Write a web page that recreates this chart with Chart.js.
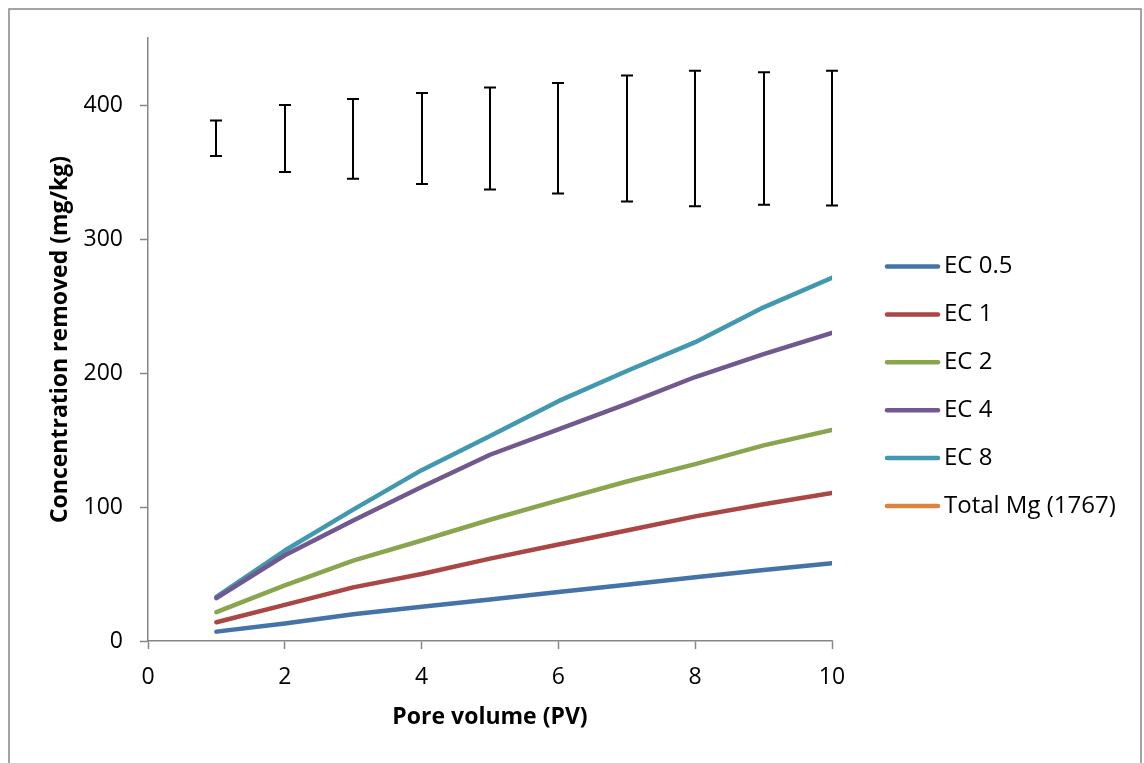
<!DOCTYPE html>
<html>
<head>
<meta charset="utf-8">
<script src="https://cdn.jsdelivr.net/npm/chart.js@4/dist/chart.umd.min.js"></script>
<style>
  html, body { margin: 0; padding: 0; background: #ffffff; }
  #wrap { width: 1144px; height: 763px; position: relative; }
</style>
</head>
<body>
<div id="wrap"><canvas id="c" width="1144" height="763"></canvas></div>
<script>
// ---- Data ----
const poreVolume = [1, 2, 3, 4, 5, 6, 7, 8, 9, 10];
const ec05 = [7, 13, 20, 25.5, 31, 36.5, 42, 47.5, 53, 58];
const ec1  = [14, 27, 40, 50, 61.5, 72, 82.5, 93, 102, 110.5];
const ec2  = [21.5, 41.5, 60, 75, 90.5, 105, 119, 132, 146, 157.5];
const ec4  = [32, 64, 90, 115, 139, 158, 177, 197, 214, 230];
const ec8  = [33, 67.5, 98, 127.5, 153, 179, 201.5, 223, 249, 271];
const totalMg = [];
const errLow  = [362, 350, 345, 341, 337, 334, 328, 324.5, 325.5, 325];
const errHigh = [388.5, 400, 404.5, 409, 413, 416.5, 422, 425.5, 424.5, 425.5];
const seriesNames = ['EC 0.5', 'EC 1', 'EC 2', 'EC 4', 'EC 8', 'Total Mg (1767)'];
const seriesColors = ['#4572A7', '#AA4643', '#89A54E', '#71588F', '#4198AF', '#DB843D'];
const xTicks = [0, 2, 4, 6, 8, 10];
const yTicks = [0, 100, 200, 300, 400];

const FONT = "'Open Sans', 'Noto Sans', sans-serif";
const AXIS = '#868686';
const FS = 23;

function pts(ys) { return ys.map((y, i) => ({ x: poreVolume[i], y: y })); }
const seriesData = [ec05, ec1, ec2, ec4, ec8, totalMg];

const datasets = seriesNames.map((name, i) => ({
  label: name,
  data: pts(seriesData[i]),
  borderColor: seriesColors[i],
  backgroundColor: seriesColors[i],
  borderWidth: 4.5,
  borderCapStyle: 'round',
  borderJoinStyle: 'round',
  pointRadius: 0,
  tension: 0,
  fill: false
}));

const framePlugin = {
  id: 'frame',
  beforeDraw(chart) {
    const ctx = chart.ctx;
    ctx.save();
    ctx.fillStyle = '#ffffff';
    ctx.fillRect(0, 0, chart.width, chart.height);
    ctx.strokeStyle = AXIS;
    ctx.lineWidth = 1.5;
    ctx.strokeRect(9, 9, 1132, 780);
    ctx.restore();
  }
};

const errorBarPlugin = {
  id: 'errorBars',
  afterDatasetsDraw(chart) {
    const ctx = chart.ctx;
    const xs = chart.scales.x, ys = chart.scales.y;
    ctx.save();
    ctx.strokeStyle = '#000000';
    ctx.lineWidth = 2;
    ctx.lineCap = 'butt';
    poreVolume.forEach((pv, i) => {
      const x = Math.round(xs.getPixelForValue(pv));
      const yl = ys.getPixelForValue(errLow[i]);
      const yh = ys.getPixelForValue(errHigh[i]);
      ctx.beginPath();
      ctx.moveTo(x, yl); ctx.lineTo(x, yh);
      ctx.moveTo(x - 6, yl); ctx.lineTo(x + 6, yl);
      ctx.moveTo(x - 6, yh); ctx.lineTo(x + 6, yh);
      ctx.stroke();
    });
    ctx.restore();
  }
};

const legendPlugin = {
  id: 'sideLegend',
  afterDraw(chart) {
    const ctx = chart.ctx;
    ctx.save();
    ctx.font = '24px ' + FONT;
    ctx.textBaseline = 'middle';
    ctx.textAlign = 'left';
    chart.data.datasets.forEach((ds, i) => {
      const y = 266.5 + i * 47.9;
      ctx.strokeStyle = ds.borderColor;
      ctx.lineWidth = 4.5;
      ctx.lineCap = 'round';
      ctx.beginPath();
      ctx.moveTo(887, y); ctx.lineTo(938, y);
      ctx.stroke();
      ctx.fillStyle = '#000000';
      ctx.fillText(ds.label, 944, y);
    });
    ctx.restore();
  }
};

new Chart(document.getElementById('c'), {
  type: 'line',
  data: { datasets: datasets },
  plugins: [framePlugin, errorBarPlugin, legendPlugin],
  options: {
    responsive: false,
    animation: false,
    events: [],
    layout: { padding: { left: 0, top: 38, right: 312, bottom: 0 } },
    plugins: {
      legend: { display: false },
      tooltip: { enabled: false },
      title: { display: false }
    },
    scales: {
      x: {
        type: 'linear',
        min: 0, max: 10,
        afterFit(s) { s.height = 122; },
        afterBuildTicks(s) { s.ticks = xTicks.map(v => ({ value: v })); },
        ticks: { color: '#000000', font: { family: FONT, size: FS }, padding: 15, maxRotation: 0 },
        grid: { drawOnChartArea: false, drawTicks: true, tickLength: 8, tickColor: AXIS, tickWidth: 1.5 },
        border: { color: AXIS, width: 1.5 },
        title: {
          display: true, text: 'Pore volume (PV)', color: '#000000',
          font: { family: FONT, size: FS, weight: 'bold' },
          padding: { top: 0, bottom: 32 }
        }
      },
      y: {
        type: 'linear',
        min: 0, max: 450,
        afterFit(s) { s.width = 148; },
        afterBuildTicks(s) { s.ticks = yTicks.map(v => ({ value: v })); },
        ticks: { color: '#000000', font: { family: FONT, size: FS }, padding: 17 },
        grid: { drawOnChartArea: false, drawTicks: true, tickLength: 8, tickColor: AXIS, tickWidth: 1.5 },
        border: { color: AXIS, width: 1.5 },
        title: {
          display: true, text: 'Concentration removed (mg/kg)', color: '#000000',
          font: { family: FONT, size: FS, weight: 'bold' },
          padding: { top: 47, bottom: 0 }
        }
      }
    }
  }
});
</script>
</body>
</html>
